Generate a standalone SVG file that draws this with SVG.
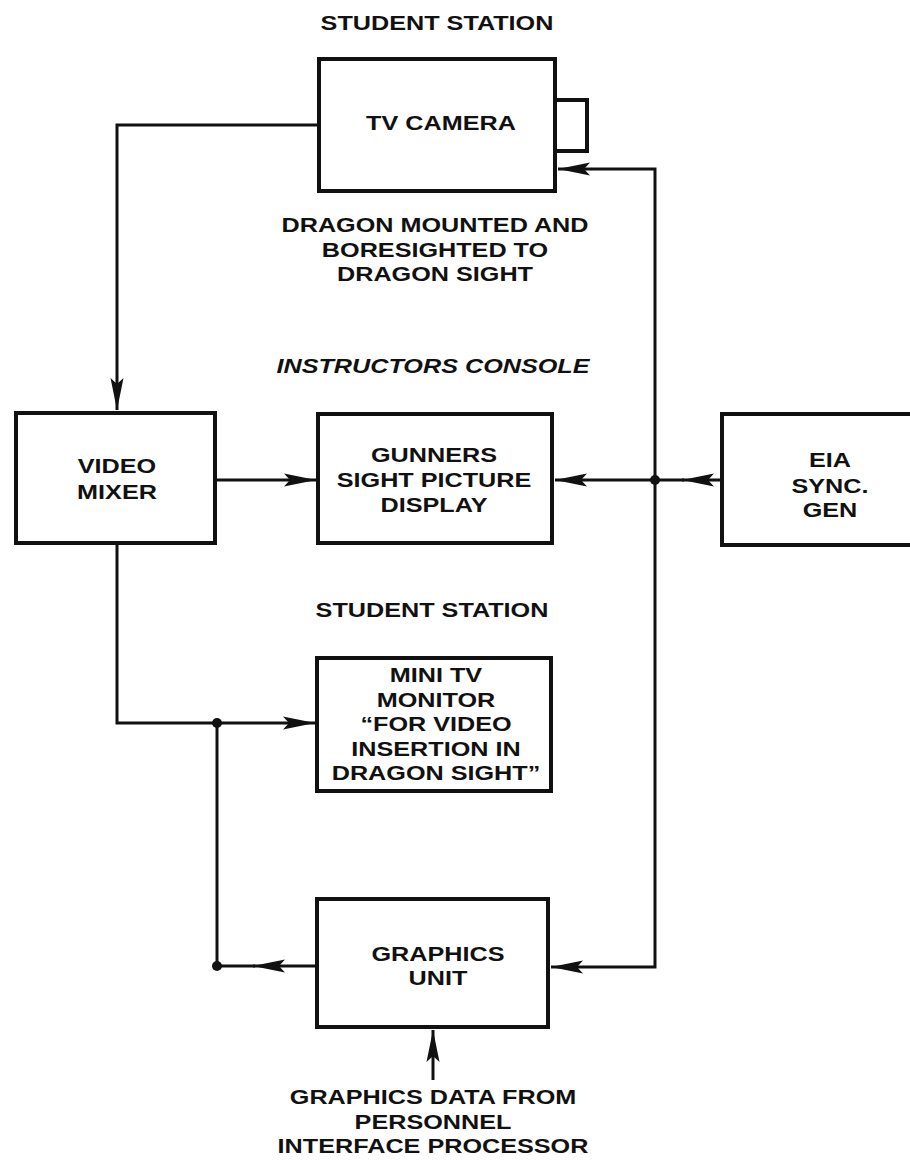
<svg xmlns="http://www.w3.org/2000/svg" width="910" height="1160" viewBox="0 0 910 1160">
<style>
text{font-family:"Liberation Sans",Arial,sans-serif;font-weight:bold;font-size:21px;fill:#111;text-anchor:middle}
.it{font-style:italic}
.box{fill:#fff;stroke:#111;stroke-width:4}
.ln{fill:none;stroke:#111;stroke-width:3}
.dot{fill:#111}
</style>
<defs>
<marker id="ah" markerUnits="userSpaceOnUse" markerWidth="36" markerHeight="16" refX="33" refY="8" orient="auto" viewBox="0 0 36 16">
<path d="M33,8 L1,1.5 L7,8 L1,14.5 Z" fill="#111"/>
</marker>
</defs>
<rect width="910" height="1160" fill="#fff"/>
<g id="labels">
<g transform="translate(437 0) scale(1.2 1)"><text x="0" y="30">STUDENT STATION</text></g>
<g transform="translate(435 0) scale(1.2 1)">
<text x="0" y="232">DRAGON MOUNTED AND</text>
<text x="0" y="257">BORESIGHTED TO</text>
<text x="0" y="281">DRAGON SIGHT</text>
</g>
<g transform="translate(433 0) scale(1.2 1)"><text class="it" x="0" y="373">INSTRUCTORS CONSOLE</text></g>
<g transform="translate(432 0) scale(1.2 1)"><text x="0" y="617">STUDENT STATION</text></g>
</g>
<g id="connectors">
<path class="ln" d="M319,125 H117 V410" marker-end="url(#ah)"/>
<path class="ln" d="M655,480 V169 H558" marker-end="url(#ah)"/>
<path class="ln" d="M655,480 V967 H551" marker-end="url(#ah)"/>
<path class="ln" d="M722,480 H682" marker-end="url(#ah)"/>
<path class="ln" d="M684,480 H655"/>
<path class="ln" d="M655,480 H555" marker-end="url(#ah)"/>
<path class="ln" d="M216,480 H316" marker-end="url(#ah)"/>
<path class="ln" d="M117,543 V723 H315" marker-end="url(#ah)"/>
<path class="ln" d="M317,966 H253" marker-end="url(#ah)"/>
<path class="ln" d="M255,966 H217 V723"/>
<path class="ln" d="M433,1080 V1030" marker-end="url(#ah)"/>
<circle class="dot" cx="655" cy="480" r="5"/>
<circle class="dot" cx="217" cy="723" r="5"/>
<circle class="dot" cx="217" cy="966" r="5"/>
</g>
<g id="tv-camera">
<path class="box" d="M555,100 H587 V151 H555"/>
<rect class="box" x="319" y="59" width="236" height="132"/>
<g transform="translate(441 0) scale(1.2 1)"><text x="0" y="130">TV CAMERA</text></g>
</g>
<g id="video-mixer">
<rect class="box" x="16" y="413" width="199" height="130"/>
<g transform="translate(117 0) scale(1.2 1)">
<text x="0" y="473">VIDEO</text>
<text x="0" y="499">MIXER</text>
</g>
</g>
<g id="gunners-display">
<rect class="box" x="318" y="414" width="234" height="129"/>
<g transform="translate(434 0) scale(1.2 1)">
<text x="0" y="462">GUNNERS</text>
<text x="0" y="487">SIGHT PICTURE</text>
<text x="0" y="512">DISPLAY</text>
</g>
</g>
<g id="eia-sync-gen">
<rect class="box" x="722" y="414" width="200" height="131"/>
<g transform="translate(830 0) scale(1.2 1)">
<text x="0" y="467">EIA</text>
<text x="0" y="493">SYNC.</text>
<text x="0" y="517">GEN</text>
</g>
</g>
<g id="mini-tv-monitor">
<rect class="box" x="317" y="658" width="234" height="133"/>
<g transform="translate(436 0) scale(1.2 1)">
<text x="0" y="682">MINI TV</text>
<text x="0" y="707">MONITOR</text>
<text x="0" y="731">“FOR VIDEO</text>
<text x="0" y="756">INSERTION IN</text>
<text x="0" y="780">DRAGON SIGHT”</text>
</g>
</g>
<g id="graphics-unit">
<rect class="box" x="317" y="899" width="231" height="128"/>
<g transform="translate(438 0) scale(1.2 1)">
<text x="0" y="961">GRAPHICS</text>
<text x="0" y="985">UNIT</text>
</g>
</g>
<g id="graphics-data-label">
<g transform="translate(433 0) scale(1.2 1)">
<text x="0" y="1104">GRAPHICS DATA FROM</text>
<text x="0" y="1129">PERSONNEL</text>
<text x="0" y="1153">INTERFACE PROCESSOR</text>
</g>
</g>
</svg>
